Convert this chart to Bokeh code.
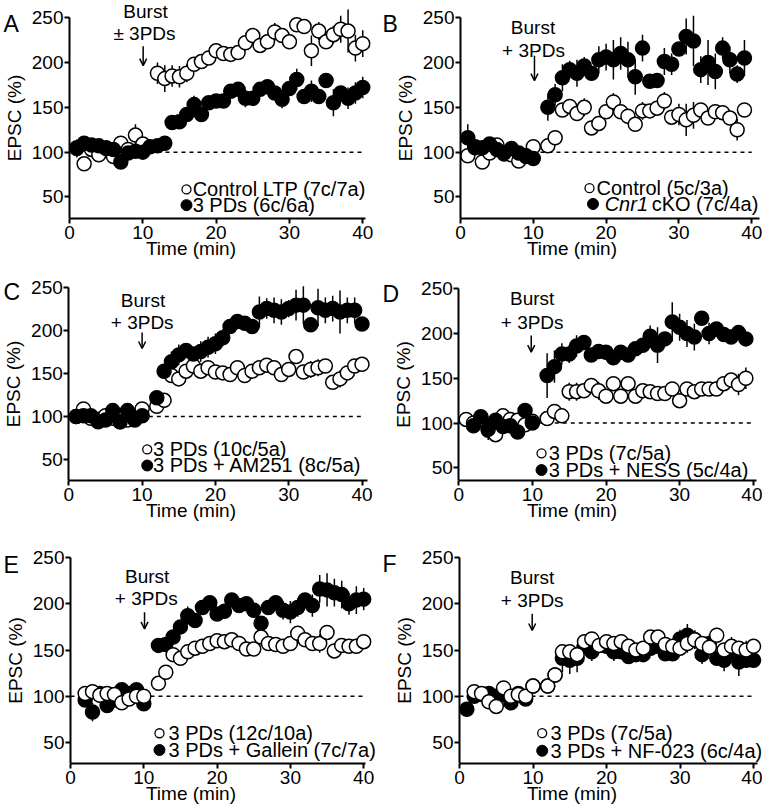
from bokeh.plotting import figure
from bokeh.layouts import column, row
from bokeh.models import Label, Arrow, OpenHead, Range1d
from bokeh.embed import file_html
from bokeh.resources import INLINE

FONT = "Liberation Sans"

# ---------------- data (time in min, EPSC in %, error = SEM) ----------------
A_open_x = [1, 2, 3, 4, 5, 6, 7, 8, 9, 10, 12, 13, 14, 15, 16, 17, 18, 19, 20, 21, 22, 23, 24, 25, 26, 27, 28, 29, 30, 31, 32, 33, 34, 35, 36, 37, 38, 39, 40]
A_open_y = [104, 87, 103, 97, 105, 95, 110, 103, 119, 109,
            188, 182, 185, 184, 188, 198, 201, 205, 213, 210,
            209, 211, 222, 230, 219, 223, 234, 230, 223, 242,
            240, 213, 235, 223, 231, 237, 235, 216, 221]
A_open_e = [10, 4, 4, 4, 4, 4, 6, 4, 12, 6,
            12, 15, 12, 12, 10, 8, 6, 5, 5, 4,
            4, 6, 8, 6, 8, 6, 10, 8, 6, 5,
            5, 17, 10, 8, 10, 15, 24, 15, 15]
A_fill_x = [1, 2, 3, 4, 5, 6, 7, 8, 9, 10, 11, 12, 13, 14, 15, 16, 17, 18, 19, 20, 21, 22, 23, 24, 25, 26, 27, 28, 29, 30, 31, 32, 33, 34, 35, 36, 37, 38, 39, 40]
A_fill_y = [105, 110, 108, 107, 104, 103, 89, 99, 101, 100,
            106, 107, 110, 133, 134, 142, 153, 142, 155, 157,
            157, 168, 170, 160, 160, 170, 173, 166, 159, 171,
            181, 162, 168, 162, 180, 155, 166, 160, 166, 172]
A_fill_e = [4, 6, 5, 5, 5, 5, 5, 5, 5, 5,
            5, 5, 5, 6, 8, 8, 10, 8, 5, 5,
            5, 6, 8, 10, 5, 6, 8, 5, 10, 8,
            12, 6, 12, 6, 6, 15, 8, 12, 12, 12]

B_open_x = [1, 2, 3, 4, 5, 6, 7, 8, 9, 10, 12, 13, 14, 15, 16, 17, 18, 19, 20, 21, 22, 23, 24, 25, 26, 27, 28, 29, 30, 31, 32, 33, 34, 35, 36, 37, 38, 39]
B_open_y = [96, 105, 89, 99, 108, 98, 97, 90, 95, 106,
            107, 116, 147, 151, 143, 150, 127, 132, 145, 156,
            145, 140, 131, 146, 146, 149, 157, 139, 142, 136,
            141, 147, 138, 145, 144, 138, 125, 147]
B_open_e = [6, 5, 4, 4, 4, 4, 4, 4, 4, 4,
            8, 8, 6, 6, 6, 10, 8, 5, 6, 10,
            6, 6, 5, 10, 6, 6, 10, 6, 12, 18,
            15, 6, 6, 6, 8, 6, 12, 5]
B_fill_x = [1, 2, 3, 4, 5, 6, 7, 8, 9, 10, 12, 13, 14, 15, 16, 17, 18, 19, 20, 21, 22, 23, 24, 25, 26, 27, 28, 29, 30, 31, 32, 33, 34, 35, 36, 37, 38, 39]
B_fill_y = [116, 106, 105, 109, 103, 99, 104, 99, 96, 93,
            150, 164, 183, 192, 188, 196, 188, 203, 206, 203,
            210, 203, 184, 216, 179, 180, 201, 198, 215, 229,
            224, 192, 200, 190, 216, 203, 187, 205]
B_fill_e = [15, 5, 5, 5, 5, 5, 5, 5, 5, 5,
            15, 12, 15, 10, 15, 10, 8, 15, 15, 22,
            18, 20, 20, 15, 8, 8, 15, 12, 8, 20,
            28, 15, 25, 20, 12, 15, 10, 20]

C_open_x = [1, 2, 3, 4, 5, 6, 7, 8, 9, 10, 12, 13, 14, 15, 16, 17, 18, 19, 20, 21, 22, 23, 24, 25, 26, 27, 28, 29, 30, 31, 32, 33, 34, 35, 36, 37, 38, 39, 40]
C_open_y = [100, 109, 98, 97, 101, 98, 94, 96, 97, 109,
            112, 119, 148, 144, 153, 159, 153, 157, 152, 151,
            149, 157, 148, 153, 157, 160, 157, 149, 155, 170,
            152, 155, 157, 159, 140, 144, 151, 159, 161]
C_open_e = [4, 4, 4, 4, 4, 4, 4, 4, 4, 4,
            4, 4, 5, 5, 5, 5, 5, 4, 4, 4,
            4, 4, 4, 4, 5, 8, 5, 5, 5, 5,
            6, 10, 10, 6, 5, 10, 6, 8, 8]
C_fill_x = [1, 2, 3, 4, 5, 6, 7, 8, 9, 10, 12, 13, 14, 15, 16, 17, 18, 19, 20, 21, 22, 23, 24, 25, 26, 27, 28, 29, 30, 31, 32, 33, 34, 35, 36, 37, 38, 39, 40]
C_fill_y = [100, 101, 101, 94, 96, 107, 94, 107, 96, 101,
            122, 153, 164, 172, 177, 173, 176, 181, 185, 192,
            205, 211, 209, 205, 222, 226, 224, 222, 226, 230,
            230, 207, 227, 224, 226, 222, 224, 224, 208]
C_fill_e = [4, 4, 4, 4, 4, 4, 4, 4, 4, 4,
            5, 6, 12, 12, 8, 8, 12, 12, 12, 10,
            6, 6, 6, 6, 18, 12, 15, 15, 10, 18,
            22, 6, 22, 15, 15, 25, 15, 15, 5]

D_open_x = [1, 2, 3, 4, 5, 6, 7, 8, 9, 10, 12, 13, 14, 15, 16, 17, 18, 19, 20, 21, 22, 23, 24, 25, 26, 27, 28, 29, 30, 31, 32, 33, 34, 35, 36, 37, 38, 39]
D_open_y = [104, 100, 105, 92, 87, 108, 104, 103, 98, 102,
            105, 113, 108, 135, 135, 136, 142, 136, 130, 144,
            130, 144, 130, 136, 135, 133, 133, 138, 125, 138,
            135, 138, 138, 138, 144, 148, 143, 150]
D_open_e = [4, 4, 4, 4, 8, 4, 4, 4, 4, 4,
            5, 6, 4, 10, 10, 8, 6, 10, 5, 5,
            5, 5, 5, 5, 6, 6, 6, 5, 8, 6,
            6, 5, 5, 6, 5, 8, 12, 12]
D_fill_x = [2, 3, 4, 5, 6, 7, 8, 9, 10, 12, 13, 14, 15, 16, 17, 18, 19, 20, 21, 22, 23, 24, 25, 26, 27, 28, 29, 30, 31, 32, 33, 34, 35, 36, 37, 38, 39]
D_fill_y = [97, 107, 93, 103, 96, 97, 90, 114, 100,
            153, 163, 177, 177, 186, 190, 176, 180, 179, 173,
            179, 176, 183, 187, 197, 187, 194, 213, 207, 200,
            196, 217, 200, 205, 199, 196, 201, 194]
D_fill_e = [5, 4, 12, 5, 5, 5, 4, 5, 5,
            25, 18, 12, 10, 12, 5, 5, 6, 5, 6,
            5, 5, 5, 5, 12, 20, 5, 22, 15, 15,
            15, 5, 12, 8, 5, 5, 8, 6]

E_open_x = [2, 3, 4, 5, 6, 7, 8, 9, 10, 12, 13, 14, 15, 16, 17, 18, 19, 20, 21, 22, 23, 24, 25, 26, 27, 28, 29, 30, 31, 32, 33, 34, 35, 36, 37, 38, 39, 40]
E_open_y = [103, 105, 101, 103, 102, 93, 97, 100, 100,
            114, 126, 145, 141, 148, 152, 154, 157, 160, 159,
            161, 157, 151, 151, 164, 157, 156, 154, 157, 168,
            161, 157, 157, 169, 149, 155, 154, 154, 159]
E_open_e = [4, 4, 4, 4, 4, 4, 4, 4, 4,
            4, 4, 5, 8, 5, 5, 5, 5, 5, 4,
            5, 4, 4, 5, 5, 5, 5, 6, 5, 5,
            5, 5, 10, 5, 8, 5, 5, 8, 6]
E_fill_x = [2, 3, 4, 5, 6, 7, 8, 9, 10, 12, 13, 14, 15, 16, 17, 18, 19, 20, 21, 22, 23, 24, 25, 26, 27, 28, 29, 30, 31, 32, 33, 34, 35, 36, 37, 38, 39, 40]
E_fill_y = [96, 83, 103, 90, 96, 107, 103, 107, 92,
            155, 156, 164, 175, 187, 182, 196, 201, 189, 192,
            204, 198, 200, 193, 179, 196, 201, 193, 191, 196,
            204, 198, 216, 215, 212, 210, 200, 204, 205]
E_fill_e = [5, 10, 5, 5, 5, 5, 5, 5, 5,
            8, 8, 6, 6, 10, 5, 5, 5, 5, 5,
            5, 6, 5, 5, 5, 8, 5, 10, 12, 10,
            8, 12, 15, 18, 15, 15, 12, 15, 12]

F_open_x = [2, 3, 4, 5, 6, 7, 8, 9, 10, 12, 13, 14, 15, 16, 17, 18, 19, 20, 21, 22, 23, 24, 25, 26, 27, 28, 29, 30, 31, 32, 33, 34, 35, 36, 37, 38, 39, 40]
F_open_y = [105, 103, 94, 89, 109, 100, 102, 100, 111,
            111, 123, 148, 148, 145, 159, 162, 155, 159, 157,
            159, 154, 150, 152, 164, 164, 156, 154, 152, 157,
            161, 157, 153, 166, 150, 154, 152, 150, 154]
F_open_e = [4, 4, 4, 4, 4, 4, 4, 4, 4,
            4, 5, 6, 8, 6, 6, 5, 5, 5, 5,
            5, 5, 5, 5, 5, 8, 6, 5, 5, 10,
            10, 6, 6, 8, 6, 10, 6, 10, 6]
F_fill_x = [1, 2, 3, 4, 5, 6, 7, 8, 9, 10, 12, 13, 14, 15, 16, 17, 18, 19, 20, 21, 22, 23, 24, 25, 26, 27, 28, 29, 30, 31, 32, 33, 34, 35, 36, 37, 38, 39, 40]
F_fill_y = [86, 100, 102, 103, 100, 102, 93, 103, 97, 111,
            111, 123, 141, 139, 141, 154, 148, 155, 154, 148,
            148, 143, 145, 145, 152, 154, 146, 146, 162, 166,
            161, 145, 157, 141, 139, 148, 137, 139, 139]
F_fill_e = [4, 4, 4, 4, 4, 4, 4, 4, 4, 4,
            5, 8, 15, 15, 15, 8, 10, 6, 6, 10,
            6, 6, 6, 6, 6, 8, 6, 6, 10, 12,
            10, 10, 10, 8, 12, 8, 15, 8, 6]

x_ticks = [0, 10, 20, 30, 40]
y_ticks = [50, 100, 150, 200, 250]
y_top = 250
baseline = 100
baseline_span = (0, 40)

legend_labels = {
    "A": ("Control LTP (7c/7a)", "3 PDs (6c/6a)"),
    "B": ("Control (5c/3a)", ("Cnr1", "cKO (7c/4a)")),
    "C": ("3 PDs (10c/5a)", "3 PDs + AM251 (8c/5a)"),
    "D": ("3 PDs (7c/5a)", "3 PDs + NESS (5c/4a)"),
    "E": ("3 PDs (12c/10a)", "3 PDs + Gallein (7c/7a)"),
    "F": ("3 PDs (7c/5a)", "3 PDs + NF-023 (6c/4a)"),
}
burst_text = {
    "A": ("Burst", "\u00b1 3PDs"),
    "B": ("Burst", "+ 3PDs"), "C": ("Burst", "+ 3PDs"), "D": ("Burst", "+ 3PDs"),
    "E": ("Burst", "+ 3PDs"), "F": ("Burst", "+ 3PDs"),
}

# ---------------- layout / style (annotation positions in data units of each panel) ----------------
# frame covers the whole figure except the x-axis band; y-axis drawn at x=0 (fixed_location)
CFG = {
    "A": dict(h=270, bb=52, xr=(-9.41, 42.56), yr=(26, 269.1), xb=40.4,
              letter=(-9.0, 243.3), bx=(10.37, 10.23), by=(256.5, 232.2), ax=10.05, ay=(218, 196.5),
              lmx=(15.96, 15.96), ltx=(16.8, 16.8), ly=(58.4, 40.9), open_top=False),
    "B": dict(h=270, bb=52, xr=(-10.85, 41.48), yr=(26, 269.1), xb=41.0,
              letter=(-10.7, 243.3), bx=(9.96, 10.03), by=(239.2, 213.2), ax=10.16, ay=(207.6, 179.7),
              lmx=(17.72, 18.2), ltx=(18.68, 19.8), ly=(59.8, 42.2), open_top=False),
    "C": dict(h=270, bb=50, xr=(-9.32, 42.66), yr=(25.5, 270.4), xb=40.7,
              letter=(-8.9, 244.8), bx=(10.12, 10.01), by=(235.1, 209.2), ax=10.0, ay=(198, 179.4),
              lmx=(10.7, 10.7), ltx=(11.5, 11.5), ly=(61.7, 43.0), open_top=False),
    "D": dict(h=270, bb=60, xr=(-10.5, 41.26), yr=(35.8, 270.4), xb=40.5,
              letter=(-10.37, 244.7), bx=(9.97, 9.97), by=(238.8, 212.7), ax=9.84, ay=(197.8, 179.2),
              lmx=(11.24, 11.24), ltx=(12.23, 12.23), ly=(66.2, 47.5), open_top=False),
    "E": dict(h=272, bb=49, xr=(-9.55, 42.43), yr=(27.3, 268.4), xb=40.2,
              letter=(-9.14, 241.7), bx=(10.46, 10.33), by=(229.8, 205.4), ax=10.1, ay=(190.9, 172.9),
              lmx=(12.14, 12.14), ltx=(13.37, 13.37), ly=(60.0, 41.9), open_top=True),
    "F": dict(h=272, bb=49, xr=(-10.61, 41.22), yr=(27.3, 268.4), xb=40.5,
              letter=(-10.48, 242.8), bx=(9.89, 9.89), by=(228.1, 203.5), ax=9.89, ay=(189.1, 171.1),
              lmx=(11.25, 11.25), ltx=(12.38, 12.38), ly=(60.1, 41.1), open_top=True),
}
FIG_W = 381

DATA = {
    "A": (A_open_x, A_open_y, A_open_e, A_fill_x, A_fill_y, A_fill_e),
    "B": (B_open_x, B_open_y, B_open_e, B_fill_x, B_fill_y, B_fill_e),
    "C": (C_open_x, C_open_y, C_open_e, C_fill_x, C_fill_y, C_fill_e),
    "D": (D_open_x, D_open_y, D_open_e, D_fill_x, D_fill_y, D_fill_e),
    "E": (E_open_x, E_open_y, E_open_e, E_fill_x, E_fill_y, E_fill_e),
    "F": (F_open_x, F_open_y, F_open_e, F_fill_x, F_fill_y, F_fill_e),
}

MS = 14
LEG_MS_OPEN = 9
LEG_MS_FILL = 11
TICK_FS = "19px"
LEG_FS = "20px"
LETTER_FS = "23px"


def text_label(x, y, text, size, align="left", baseline_="middle", style="normal", x_offset=0):
    return Label(x=x, y=y, text=text, text_font=FONT, text_font_size=size, text_align=align,
                 text_baseline=baseline_, text_font_style=style, text_color="black", x_offset=x_offset)


def make_panel(key):
    c = CFG[key]
    ox, oy, oe, fx, fy, fe = DATA[key]
    p = figure(width=FIG_W, height=c["h"], output_backend="svg", toolbar_location=None,
               x_range=Range1d(*c["xr"]), y_range=Range1d(*c["yr"]),
               min_border_left=0, min_border_right=0,
               min_border_top=0, min_border_bottom=c["bb"])
    p.outline_line_color = None
    p.xgrid.visible = False
    p.ygrid.visible = False
    p.background_fill_color = "white"
    p.border_fill_color = "white"

    for ax in (p.xaxis[0], p.yaxis[0]):
        ax.axis_line_width = 2
        ax.axis_line_color = "black"
        ax.major_tick_line_width = 2
        ax.major_tick_line_color = "black"
        ax.major_tick_out = 5
        ax.major_tick_in = 0
        ax.minor_tick_line_color = None
        ax.major_label_text_font = FONT
        ax.major_label_text_font_size = TICK_FS
        ax.major_label_text_color = "black"
        ax.axis_label_text_font = FONT
        ax.axis_label_text_font_size = TICK_FS
        ax.axis_label_text_font_style = "normal"
        ax.axis_label_text_color = "black"
    p.xaxis.ticker = x_ticks
    p.yaxis.ticker = y_ticks
    p.xaxis.axis_label = "Time (min)"
    p.yaxis.axis_label = "EPSC (%)"
    p.xaxis.bounds = (0, c["xb"])
    p.yaxis.bounds = (c["yr"][0], y_top)
    p.yaxis.fixed_location = 0
    p.xaxis.major_label_standoff = 2
    p.xaxis.axis_label_standoff = -4
    p.yaxis.major_label_standoff = 1
    p.yaxis.axis_label_standoff = 4

    # baseline dashed
    p.segment(x0=[baseline_span[0]], y0=[baseline], x1=[baseline_span[1]], y1=[baseline],
              line_color="black", line_width=1.5, line_dash="4 4")

    # error bars
    p.segment(x0=ox, x1=ox, y0=[y - e for y, e in zip(oy, oe)], y1=[y + e for y, e in zip(oy, oe)],
              line_color="black", line_width=1.5)
    p.segment(x0=fx, x1=fx, y0=[y - e for y, e in zip(fy, fe)], y1=[y + e for y, e in zip(fy, fe)],
              line_color="black", line_width=1.5)

    def draw_open():
        p.scatter(ox, oy, size=MS, marker="circle", fill_color="white", line_color="black", line_width=1.5)

    def draw_fill():
        p.scatter(fx, fy, size=MS, marker="circle", fill_color="black", line_color="black", line_width=1.5)

    if c["open_top"]:
        draw_fill(); draw_open()
    else:
        draw_open(); draw_fill()

    # legend (manual)
    l1, l2 = legend_labels[key]
    p.scatter([c["lmx"][0]], [c["ly"][0]], size=LEG_MS_OPEN, marker="circle", fill_color="white",
              line_color="black", line_width=1.3)
    p.scatter([c["lmx"][1]], [c["ly"][1]], size=LEG_MS_FILL, marker="circle", fill_color="black",
              line_color="black", line_width=1.0)
    p.add_layout(text_label(c["ltx"][0], c["ly"][0], l1, LEG_FS))
    if isinstance(l2, tuple):
        p.add_layout(text_label(c["ltx"][1], c["ly"][1], l2[0], LEG_FS, style="italic"))
        p.add_layout(text_label(c["ltx"][1], c["ly"][1], l2[1], LEG_FS, x_offset=47))
    else:
        p.add_layout(text_label(c["ltx"][1], c["ly"][1], l2, LEG_FS))

    # stimulation annotation
    t1, t2 = burst_text[key]
    p.add_layout(text_label(c["bx"][0], c["by"][0], t1, TICK_FS, align="center"))
    p.add_layout(text_label(c["bx"][1], c["by"][1], t2, TICK_FS, align="center"))
    p.add_layout(Arrow(x_start=c["ax"], y_start=c["ay"][0], x_end=c["ax"], y_end=c["ay"][1],
                       line_width=1.5, line_color="black",
                       end=OpenHead(size=7, line_width=1.5, line_color="black")))

    # panel letter
    p.add_layout(text_label(c["letter"][0], c["letter"][1], key, LETTER_FS, baseline_="alphabetic"))
    return p


panels = {k: make_panel(k) for k in "ABCDEF"}
layout = column(row(panels["A"], panels["B"]),
                row(panels["C"], panels["D"]),
                row(panels["E"], panels["F"]))

open("out.html", "w").write(file_html(layout, INLINE))
